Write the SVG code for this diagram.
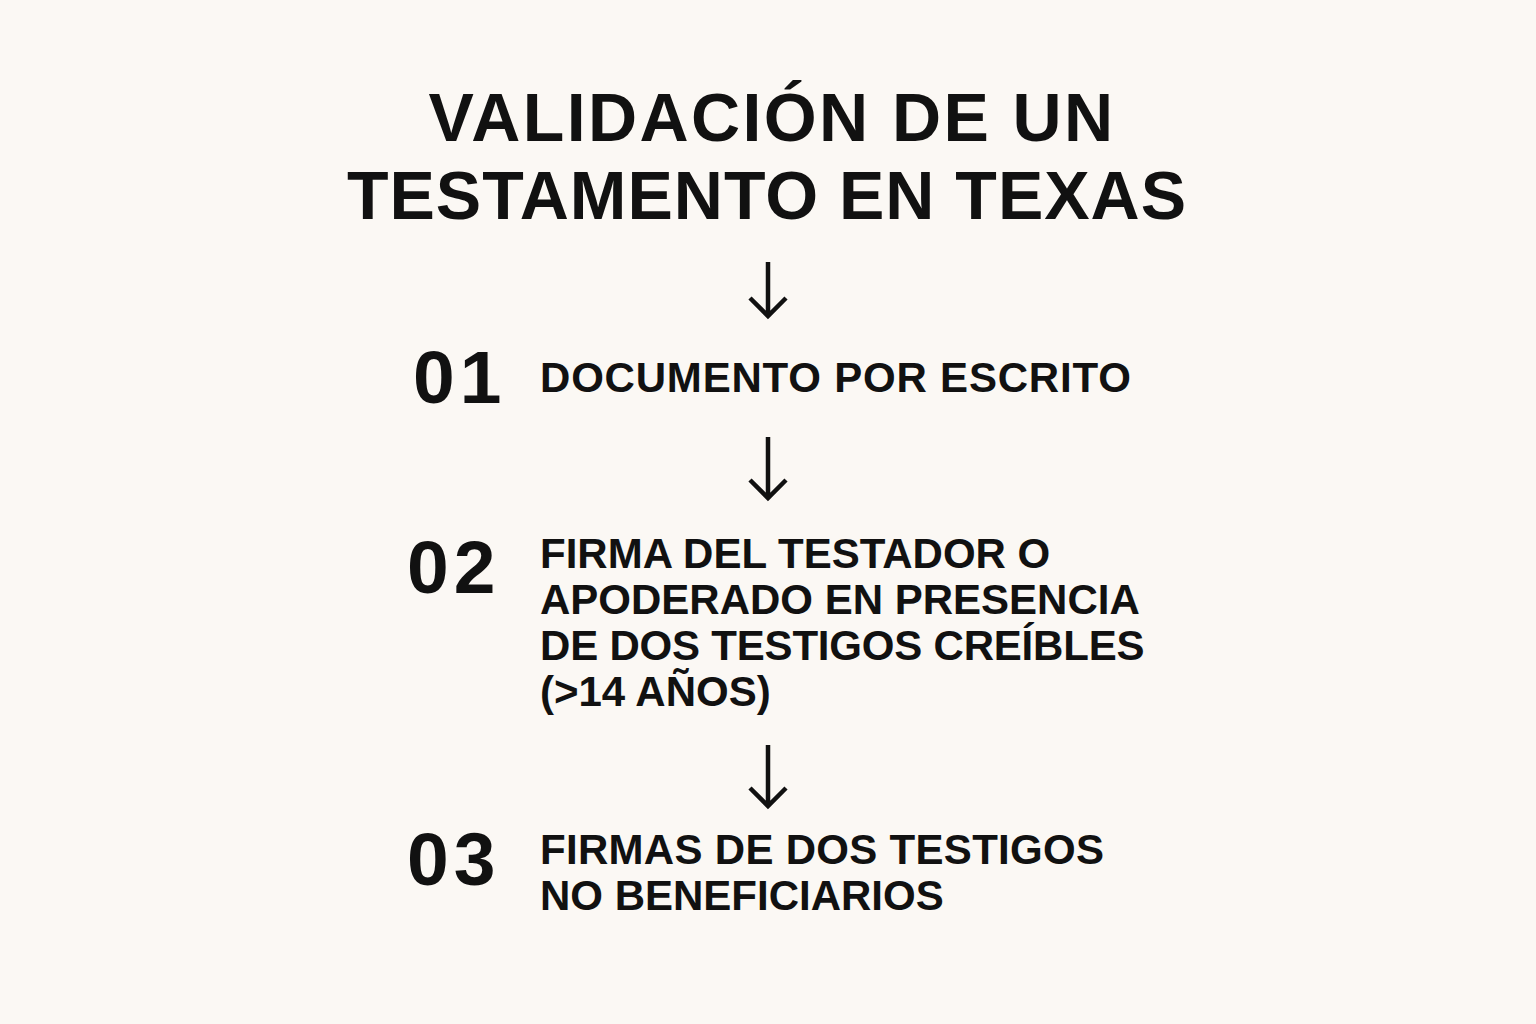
<svg xmlns="http://www.w3.org/2000/svg" width="1536" height="1024" viewBox="0 0 1536 1024">
  <style>
    .title { font-family: "Liberation Sans", Arial, sans-serif; font-weight: 700; font-size: 68px; fill: #111; text-anchor: middle; }
    .num { font-family: "Liberation Sans", Arial, sans-serif; font-weight: 700; font-size: 75px; fill: #111; letter-spacing: 5px; }
    .lbl { font-family: "Liberation Sans", Arial, sans-serif; font-weight: 700; font-size: 42px; fill: #111; }
    .arrow { fill: none; stroke: #111; stroke-width: 4.5; stroke-linecap: butt; stroke-linejoin: miter; }
  </style>
  <rect width="1536" height="1024" fill="#FBF8F4"/>
  <g id="title">
    <text class="title" x="772" y="141" style="letter-spacing:2.4px">VALIDACIÓN DE UN</text>
    <text class="title" x="767" y="219" style="letter-spacing:1px">TESTAMENTO EN TEXAS</text>
  </g>
  <g id="connectors">
    <path class="arrow" d="M768 262 V316 M750 298 L768 316 L786 298"/>
    <path class="arrow" d="M768 437 V498 M750 480 L768 498 L786 480"/>
    <path class="arrow" d="M768 745 V806 M750 788 L768 806 L786 788"/>
  </g>
  <g id="step1">
    <text class="num" x="413" y="403">01</text>
    <text class="lbl" x="540" y="392" style="letter-spacing:0.8px">DOCUMENTO POR ESCRITO</text>
  </g>
  <g id="step2">
    <text class="num" x="407" y="593">02</text>
    <text class="lbl" x="540" y="568">FIRMA DEL TESTADOR O</text>
    <text class="lbl" x="540" y="614">APODERADO EN PRESENCIA</text>
    <text class="lbl" x="540" y="660" style="letter-spacing:-0.2px">DE DOS TESTIGOS CREÍBLES</text>
    <text class="lbl" x="540" y="706">(&gt;14 AÑOS)</text>
  </g>
  <g id="step3">
    <text class="num" x="407" y="885">03</text>
    <text class="lbl" x="540" y="864" style="letter-spacing:0.3px">FIRMAS DE DOS TESTIGOS</text>
    <text class="lbl" x="540" y="910">NO BENEFICIARIOS</text>
  </g>
</svg>
